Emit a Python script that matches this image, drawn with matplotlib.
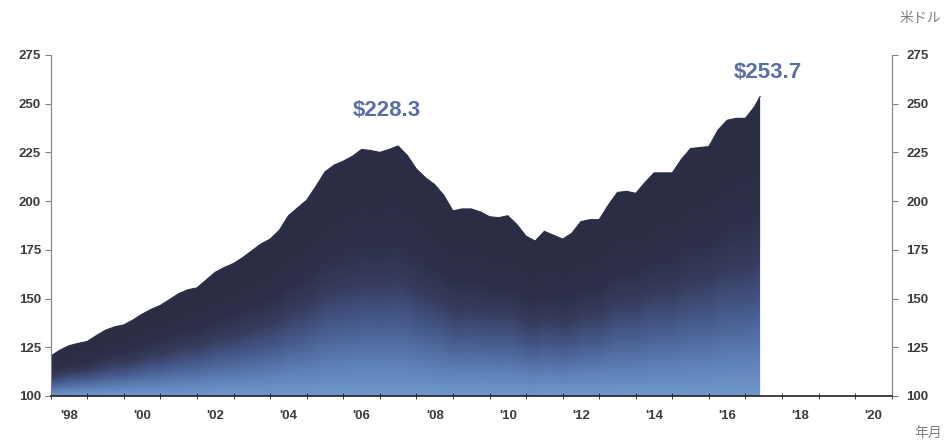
import numpy as np
import matplotlib
matplotlib.use("Agg")
import matplotlib.pyplot as plt
from matplotlib.patches import Polygon
from matplotlib.colors import LinearSegmentedColormap

# ---- data (quarterly readings, USD) ----
start_year = 1998.0
quarter_values = [
    120.5, 123.5, 125.8, 127.0,   # 1998
    128.0, 131.0, 133.8, 135.5,   # 1999
    136.5, 139.0, 142.0, 144.5,   # 2000
    146.5, 149.5, 152.5, 154.5,   # 2001
    155.5, 159.5, 163.5, 166.0,   # 2002
    168.0, 171.0, 174.5, 178.0,   # 2003
    180.5, 185.0, 192.5, 196.5,   # 2004
    200.5, 207.5, 215.0, 218.5,   # 2005
    220.5, 223.0, 226.5, 226.0,   # 2006
    225.0, 226.5, 228.3, 223.5,   # 2007
    216.5, 212.0, 208.5, 203.0,   # 2008
    195.0, 196.0, 196.0, 194.5,   # 2009
    192.0, 191.5, 192.5, 188.0,   # 2010
    182.0, 179.5, 184.5, 182.5,   # 2011
    180.5, 183.5, 189.5, 190.5,   # 2012
    190.5, 198.0, 204.5, 205.0,   # 2013
    204.0, 209.5, 214.5, 214.5,   # 2014
    214.5, 221.5, 227.0, 227.5,   # 2015
    228.0, 236.5, 241.5, 242.5,   # 2016
    242.5, 248.5,                 # 2017
]
last_year = 2017.4
last_value = 253.7
peak_label = "$228.3"
latest_label = "$253.7"
year_ticks = [1998, 2000, 2002, 2004, 2006, 2008, 2010, 2012, 2014, 2016, 2018, 2020]
tick_labels = ["'98", "'00", "'02", "'04", "'06", "'08", "'10", "'12", "'14", "'16", "'18", "'20"]
y_ticks = [100, 125, 150, 175, 200, 225, 250, 275]

years = list(start_year + 0.25 * np.arange(len(quarter_values))) + [last_year]
values = quarter_values + [last_value]

plt.rcParams['font.family'] = ['Liberation Sans', 'DejaVu Sans']

fig = plt.figure(figsize=(9.52, 4.47), dpi=100)
ax = fig.add_axes([0.0533, 0.1141, 0.8834, 0.7629])
ax.set_xlim(1998, 2021)
ax.set_ylim(100, 275)

# area polygon
verts = [(years[0], 100)] + list(zip(years, values)) + [(years[-1], 100)]
patch = Polygon(verts, closed=True, facecolor='none', edgecolor='none', transform=ax.transData)
ax.add_patch(patch)

# gradient (relative to column height)
gx = np.linspace(years[0], years[-1], 600)
gy = np.linspace(100, 260, 400)
X, Y = np.meshgrid(gx, gy)
top = np.interp(gx, years, values)[None, :]
t = np.clip((Y - 100) / (top - 100), 0, 1)
cmap = LinearSegmentedColormap.from_list('g', [
    (0.0, (112/255, 152/255, 202/255)),
    (0.12, (95/255, 130/255, 185/255)),
    (0.30, (70/255, 90/255, 140/255)),
    (0.46, (55/255, 60/255, 94/255)),
    (0.62, (46/255, 48/255, 73/255)),
    (1.0, (43/255, 45/255, 68/255)),
])
im = ax.imshow(cmap(t), extent=[gx[0], gx[-1], 100, 260], origin='lower',
               aspect='auto', interpolation='bilinear', zorder=1)
im.set_clip_path(patch)
ax.plot(years, values, color=(43/255, 45/255, 68/255), lw=0.8, zorder=2)

# spines
ax.spines['top'].set_visible(False)
ax.spines['left'].set_color('#808080')
ax.spines['right'].set_color('#808080')
ax.spines['bottom'].set_color('#202020')
ax.spines['bottom'].set_linewidth(1.2)
ax.spines['bottom'].set_zorder(3)

tick_color = '#3c3c3c'
ax.set_yticks(y_ticks)
ax.set_yticklabels([str(v) for v in y_ticks])
ax.tick_params(axis='y', left=True, right=True, labelleft=True, labelright=True,
               direction='out', length=4, color='#808080', labelsize=9.5,
               labelcolor=tick_color, pad=3)
for t_ in ax.yaxis.get_major_ticks():
    t_.label1.set_fontweight('bold')
    t_.label2.set_fontweight('bold')
    t_.label2.set_color(tick_color)
    t_.label2.set_x(1.0)
# extra pad for right-hand labels
import matplotlib.transforms as mtransforms
offset = mtransforms.ScaledTranslation(8/100, 0, fig.dpi_scale_trans)
for lab in ax.yaxis.get_majorticklabels():
    pass
for t_ in ax.yaxis.get_major_ticks():
    t_.label2.set_transform(t_.label2.get_transform() + mtransforms.ScaledTranslation(5/100, 0, fig.dpi_scale_trans))

# x: year ticks as minor, labels at mid-year
ax.set_xticks(np.arange(1998, 2022, 1), minor=True)
ax.set_xticks([y + 0.5 for y in year_ticks])
ax.set_xticklabels(tick_labels, fontweight='bold')
ax.tick_params(axis='x', which='major', length=0, pad=10, labelsize=9.5, labelcolor=tick_color)
ax.tick_params(axis='x', which='minor', direction='inout', length=5, color='#202020')

# annotations
ann_color = '#5a6fa3'
ax.text(2007.2, 246.7, peak_label, ha='center', va='center', fontsize=16,
        fontweight='bold', color=ann_color)
ax.text(2017.6, 266.2, latest_label, ha='center', va='center', fontsize=16,
        fontweight='bold', color=ann_color)

fig.text(920/952, 1 - 18/447, '米ドル', ha='center', va='center', fontsize=10,
         color='#808080', family=['Noto Sans CJK JP', 'DejaVu Sans'])
fig.text(928/952, 1 - 433/447, '年月', ha='center', va='center', fontsize=10,
         color='#808080', family=['Noto Sans CJK JP', 'DejaVu Sans'])

fig.savefig('out.png', dpi=100, facecolor='white')
